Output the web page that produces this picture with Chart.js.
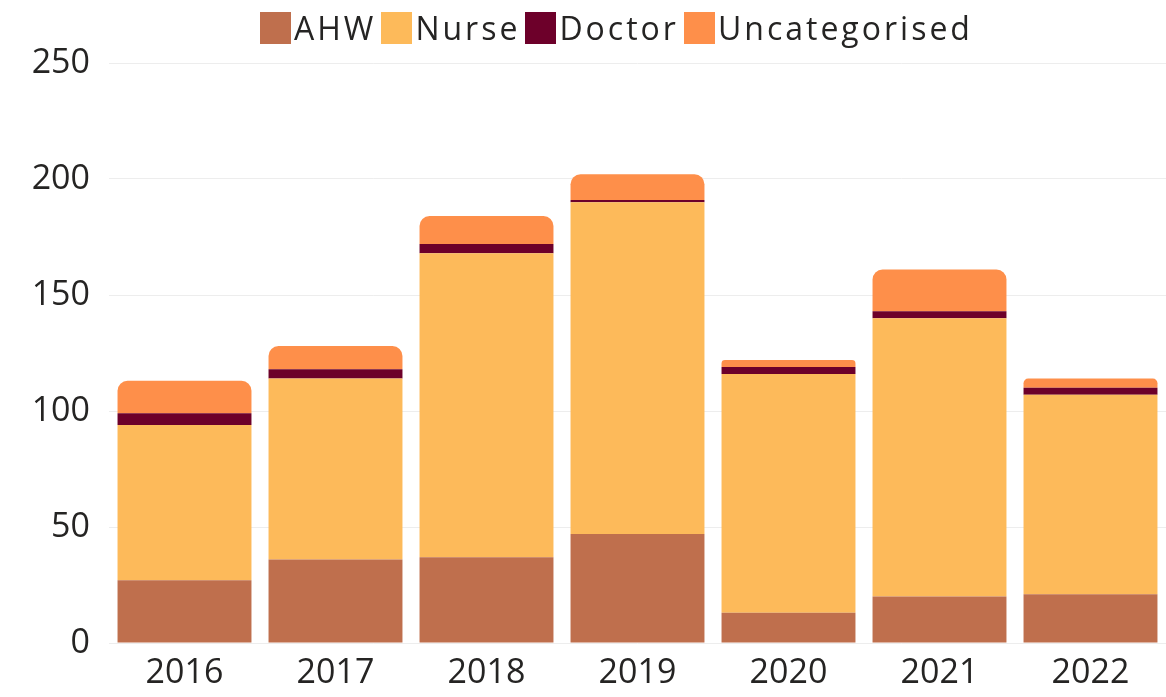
<!DOCTYPE html>
<html lang="en">
<head>
  <meta charset="UTF-8">
  <title>Workforce by Category</title>
  <script src="https://cdn.jsdelivr.net/npm/chart.js"></script>
  <style>
    html, body {
      margin: 0;
      padding: 0;
      background: #fff;
      font-family: "Open Sans", sans-serif;
    }
    #wrap {
      position: relative;
      width: 1166px;
      height: 697px;
    }
    #legend {
      position: absolute;
      top: 6px;
      left: 260px;
      display: flex;
      align-items: center;
      font-size: 32px;
      letter-spacing: 3px;
      color: #252423;
      white-space: nowrap;
    }
    .item {
      display: flex;
      align-items: center;
      margin-right: 5px;
    }
    .box {
      width: 31px;
      height: 32px;
      margin-right: 3px;
    }
  </style>
</head>
<body>
  <div id="wrap">
    <div id="legend"></div>
    <canvas id="chart" width="1166" height="697"></canvas>
  </div>

  <script>
    const years = ['2016', '2017', '2018', '2019', '2020', '2021', '2022'];
    const ahw = [27, 36, 37, 47, 13, 20, 21];
    const nurse = [67, 78, 131, 143, 103, 120, 86];
    const doctor = [5, 4, 4, 1, 3, 3, 3];
    const uncategorised = [14, 10, 12, 11, 3, 18, 4];
    const yTicks = [0, 50, 100, 150, 200, 250];

    const series = [
      { label: 'AHW', data: ahw, color: '#BF6F4D' },
      { label: 'Nurse', data: nurse, color: '#FDBA5A' },
      { label: 'Doctor', data: doctor, color: '#6D002A' },
      { label: 'Uncategorised', data: uncategorised, color: '#FE8F4A' }
    ];

    // html legend, tighter than the built-in one
    const legend = document.getElementById('legend');
    series.forEach(s => {
      const item = document.createElement('div');
      item.className = 'item';
      item.innerHTML = '<span class="box" style="background:' + s.color + '"></span>' + s.label;
      legend.appendChild(item);
    });

    const datasets = series.map((s, i) => ({
      label: s.label,
      data: s.data,
      backgroundColor: s.color,
      borderWidth: 0,
      borderRadius: i === series.length - 1
        ? { topLeft: 10, topRight: 10, bottomLeft: 0, bottomRight: 0 }
        : 0,
      borderSkipped: false,
      barPercentage: 0.887,
      categoryPercentage: 1
    }));

    new Chart(document.getElementById('chart'), {
      type: 'bar',
      data: { labels: years, datasets: datasets },
      options: {
        responsive: false,
        animation: false,
        layout: { padding: { top: 63, right: 0, left: 0, bottom: 0 } },
        plugins: {
          legend: { display: false },
          tooltip: { enabled: false }
        },
        scales: {
          x: {
            stacked: true,
            grid: { display: false },
            border: { display: false },
            ticks: {
              color: '#252423',
              font: { family: 'Open Sans', size: 34 },
              padding: 2
            },
            afterFit: s => { s.height = 54; }
          },
          y: {
            stacked: true,
            min: 0,
            max: 250,
            afterBuildTicks: s => { s.ticks = yTicks.map(v => ({ value: v })); },
            grid: { color: '#EDEDED', drawTicks: false },
            border: { display: false },
            ticks: {
              color: '#252423',
              font: { family: 'Open Sans', size: 34 },
              padding: 19
            },
            afterFit: s => { s.width = 109; }
          }
        }
      }
    });
  </script>
</body>
</html>
